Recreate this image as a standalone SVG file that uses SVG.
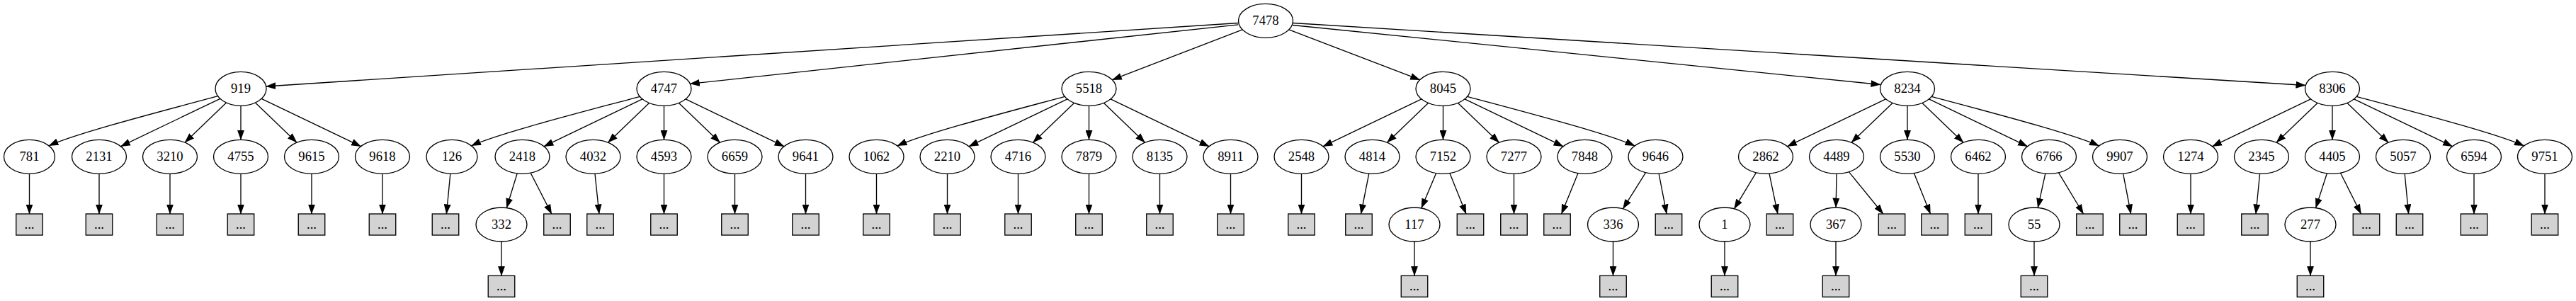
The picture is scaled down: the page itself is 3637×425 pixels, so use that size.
<svg xmlns="http://www.w3.org/2000/svg" width="3637" height="425" viewBox="0 0 3637 425">
<style>
ellipse{fill:none;stroke:#000;stroke-width:1.33}
rect.b{fill:#d3d3d3;stroke:#000;stroke-width:1.33}
text{font-family:"Liberation Serif","Times New Roman",serif;font-size:18.67px;text-anchor:middle;fill:#000}
#edges path{fill:none;stroke:#000;stroke-width:1.33;marker-end:url(#arr)}
</style>
<defs>
<marker id="arr" markerUnits="userSpaceOnUse" markerWidth="14" markerHeight="10" refX="13.5" refY="5" orient="auto" viewBox="0 0 14 10">
<path d="M0,0 L14,5 L0,10 z" fill="#000"/>
</marker>
</defs>
<rect width="3637" height="425" fill="#fff"/>
<g id="edges">
<path d="M1748.5,32.5 L375.7,122"/>
<path d="M1748.3,34.8 L974.3,118.3"/>
<path d="M1754.2,41.9 L1570.3,112.7"/>
<path d="M1819.8,41.9 L2004.7,112.7"/>
<path d="M1825,35.5 L2655,119.5"/>
<path d="M1825.2,32.5 L3255,120.5"/>
<path d="M307.6,135.7 C227.6,157.3 109,187.8 69,205.8"/>
<path d="M310.8,139.3 L170.5,206.7"/>
<path d="M319.5,145 L261,201.2"/>
<path d="M340,149.3 L340,197.3"/>
<path d="M360.5,145 L419,201.2"/>
<path d="M369.2,139.3 L509.5,206.7"/>
<path d="M903.3,136.3 C823.3,157.9 705.5,187.8 665.5,205.8"/>
<path d="M907,139.9 L768,206.7"/>
<path d="M916.5,145.4 L858.5,201.2"/>
<path d="M937.5,149.3 L937.5,197.3"/>
<path d="M958.5,145.4 L1016.5,201.2"/>
<path d="M968,139.9 L1107,206.7"/>
<path d="M1503.3,136.3 C1423.3,157.9 1307,187.9 1267,205.9"/>
<path d="M1507,139.9 L1368,206.7"/>
<path d="M1516.5,145.4 L1458.5,201.2"/>
<path d="M1537.5,149.3 L1537.5,197.3"/>
<path d="M1558.5,145.4 L1616.5,201.2"/>
<path d="M1568,139.9 L1707,206.7"/>
<path d="M2007,139.9 L1868,206.7"/>
<path d="M2016.5,145.4 L1958.5,201.2"/>
<path d="M2037.5,149.3 L2037.5,197.3"/>
<path d="M2058.5,145.4 L2116.5,201.2"/>
<path d="M2068,139.9 L2207,206.7"/>
<path d="M2071.8,136.3 C2151.8,157.9 2268,187.9 2308,205.9"/>
<path d="M2662.5,139.9 L2523.5,206.7"/>
<path d="M2672,145.4 L2614,201.2"/>
<path d="M2693,149.3 L2693,197.3"/>
<path d="M2714,145.4 L2772,201.2"/>
<path d="M2723.5,139.9 L2862.5,206.7"/>
<path d="M2727.3,136.3 C2807.3,157.9 2923.5,187.9 2963.5,205.9"/>
<path d="M3262.5,139.9 L3123.5,206.7"/>
<path d="M3272,145.4 L3214,201.2"/>
<path d="M3293,149.3 L3293,197.3"/>
<path d="M3314,145.4 L3372,201.2"/>
<path d="M3323.5,139.9 L3462.5,206.7"/>
<path d="M3327.3,136.3 C3407.3,157.9 3523.5,187.9 3563.5,205.9"/>
<path d="M41.5,245.3 L41.5,302"/>
<path d="M140,245.3 L140,302"/>
<path d="M240,245.3 L240,302"/>
<path d="M340,245.3 L340,302"/>
<path d="M440,245.3 L440,302"/>
<path d="M540,245.3 L540,302"/>
<path d="M635.8,245.3 L630.4,302"/>
<path d="M730.2,244.9 L715.3,293.5"/>
<path d="M749.2,244.2 L778.8,302"/>
<path d="M840,245.3 L845.9,302"/>
<path d="M937.5,245.3 L937.5,302"/>
<path d="M1037.5,245.3 L1037.5,302"/>
<path d="M1137.5,245.3 L1137.5,302"/>
<path d="M1237.5,245.3 L1237.5,302"/>
<path d="M1337.5,245.3 L1337.5,302"/>
<path d="M1437.5,245.3 L1437.5,302"/>
<path d="M1537.5,245.3 L1537.5,302"/>
<path d="M1637.5,245.3 L1637.5,302"/>
<path d="M1737.5,245.3 L1737.5,302"/>
<path d="M1837.5,245.3 L1837.5,302"/>
<path d="M1932.8,245.1 L1921.5,302"/>
<path d="M2027.7,244.5 L2006.8,293.9"/>
<path d="M2046.9,244.6 L2070,302"/>
<path d="M2137.5,245.3 L2137.5,302"/>
<path d="M2228,244.6 L2204.6,302"/>
<path d="M2323.5,243.7 L2291.4,294.9"/>
<path d="M2342.1,245.1 L2353.1,302"/>
<path d="M2479.4,243.8 L2448.5,294.8"/>
<path d="M2498,245.1 L2509.9,302"/>
<path d="M2593,245.3 L2592.1,293"/>
<path d="M2610.4,242.7 L2658.8,302"/>
<path d="M2702.4,244.6 L2725.5,302"/>
<path d="M2793,245.3 L2793,302"/>
<path d="M2887.8,245.1 L2877.2,293.3"/>
<path d="M2906.5,243.8 L2941.5,302"/>
<path d="M2997.6,245.1 L3008.6,302"/>
<path d="M3093,245.3 L3093,302"/>
<path d="M3190.6,245.3 L3185,302"/>
<path d="M3285.4,244.8 L3269.6,293.6"/>
<path d="M3304.5,244.2 L3333.5,302"/>
<path d="M3395.2,245.3 L3400.6,302"/>
<path d="M3493,245.3 L3493,302"/>
<path d="M3593,245.3 L3593,302"/>
<path d="M708,341 L708,389.3"/>
<path d="M1997,341 L1997,389.3"/>
<path d="M2277.5,341 L2277.5,389.3"/>
<path d="M2435,341 L2435,389.3"/>
<path d="M2592,341 L2592,389.3"/>
<path d="M2872,341 L2872,389.3"/>
<path d="M3262,341 L3262,389.3"/>
</g>
<g id="node-7478"><ellipse cx="1787" cy="29.3" rx="38.5" ry="24"/><text x="1787" y="34.9">7478</text></g>
<g id="node-919"><ellipse cx="340" cy="125.3" rx="36" ry="24"/><text x="340" y="130.9">919</text></g>
<g id="node-4747"><ellipse cx="937.5" cy="125.3" rx="38.5" ry="24"/><text x="937.5" y="130.9">4747</text></g>
<g id="node-5518"><ellipse cx="1537.5" cy="125.3" rx="38.5" ry="24"/><text x="1537.5" y="130.9">5518</text></g>
<g id="node-8045"><ellipse cx="2037.5" cy="125.3" rx="38.5" ry="24"/><text x="2037.5" y="130.9">8045</text></g>
<g id="node-8234"><ellipse cx="2693" cy="125.3" rx="38.5" ry="24"/><text x="2693" y="130.9">8234</text></g>
<g id="node-8306"><ellipse cx="3293" cy="125.3" rx="38.5" ry="24"/><text x="3293" y="130.9">8306</text></g>
<g id="node-781"><ellipse cx="41.5" cy="221.3" rx="36" ry="24"/><text x="41.5" y="226.9">781</text></g>
<g id="node-2131"><ellipse cx="140" cy="221.3" rx="38.5" ry="24"/><text x="140" y="226.9">2131</text></g>
<g id="node-3210"><ellipse cx="240" cy="221.3" rx="38.5" ry="24"/><text x="240" y="226.9">3210</text></g>
<g id="node-4755"><ellipse cx="340" cy="221.3" rx="38.5" ry="24"/><text x="340" y="226.9">4755</text></g>
<g id="node-9615"><ellipse cx="440" cy="221.3" rx="38.5" ry="24"/><text x="440" y="226.9">9615</text></g>
<g id="node-9618"><ellipse cx="540" cy="221.3" rx="38.5" ry="24"/><text x="540" y="226.9">9618</text></g>
<g id="node-126"><ellipse cx="638" cy="221.3" rx="36" ry="24"/><text x="638" y="226.9">126</text></g>
<g id="node-2418"><ellipse cx="737.5" cy="221.3" rx="38.5" ry="24"/><text x="737.5" y="226.9">2418</text></g>
<g id="node-4032"><ellipse cx="837.5" cy="221.3" rx="38.5" ry="24"/><text x="837.5" y="226.9">4032</text></g>
<g id="node-4593"><ellipse cx="937.5" cy="221.3" rx="38.5" ry="24"/><text x="937.5" y="226.9">4593</text></g>
<g id="node-6659"><ellipse cx="1037.5" cy="221.3" rx="38.5" ry="24"/><text x="1037.5" y="226.9">6659</text></g>
<g id="node-9641"><ellipse cx="1137.5" cy="221.3" rx="38.5" ry="24"/><text x="1137.5" y="226.9">9641</text></g>
<g id="node-1062"><ellipse cx="1237.5" cy="221.3" rx="38.5" ry="24"/><text x="1237.5" y="226.9">1062</text></g>
<g id="node-2210"><ellipse cx="1337.5" cy="221.3" rx="38.5" ry="24"/><text x="1337.5" y="226.9">2210</text></g>
<g id="node-4716"><ellipse cx="1437.5" cy="221.3" rx="38.5" ry="24"/><text x="1437.5" y="226.9">4716</text></g>
<g id="node-7879"><ellipse cx="1537.5" cy="221.3" rx="38.5" ry="24"/><text x="1537.5" y="226.9">7879</text></g>
<g id="node-8135"><ellipse cx="1637.5" cy="221.3" rx="38.5" ry="24"/><text x="1637.5" y="226.9">8135</text></g>
<g id="node-8911"><ellipse cx="1737.5" cy="221.3" rx="38.5" ry="24"/><text x="1737.5" y="226.9">8911</text></g>
<g id="node-2548"><ellipse cx="1837.5" cy="221.3" rx="38.5" ry="24"/><text x="1837.5" y="226.9">2548</text></g>
<g id="node-4814"><ellipse cx="1937.5" cy="221.3" rx="38.5" ry="24"/><text x="1937.5" y="226.9">4814</text></g>
<g id="node-7152"><ellipse cx="2037.5" cy="221.3" rx="38.5" ry="24"/><text x="2037.5" y="226.9">7152</text></g>
<g id="node-7277"><ellipse cx="2137.5" cy="221.3" rx="38.5" ry="24"/><text x="2137.5" y="226.9">7277</text></g>
<g id="node-7848"><ellipse cx="2237.5" cy="221.3" rx="38.5" ry="24"/><text x="2237.5" y="226.9">7848</text></g>
<g id="node-9646"><ellipse cx="2337.5" cy="221.3" rx="38.5" ry="24"/><text x="2337.5" y="226.9">9646</text></g>
<g id="node-2862"><ellipse cx="2493" cy="221.3" rx="38.5" ry="24"/><text x="2493" y="226.9">2862</text></g>
<g id="node-4489"><ellipse cx="2593" cy="221.3" rx="38.5" ry="24"/><text x="2593" y="226.9">4489</text></g>
<g id="node-5530"><ellipse cx="2693" cy="221.3" rx="38.5" ry="24"/><text x="2693" y="226.9">5530</text></g>
<g id="node-6462"><ellipse cx="2793" cy="221.3" rx="38.5" ry="24"/><text x="2793" y="226.9">6462</text></g>
<g id="node-6766"><ellipse cx="2893" cy="221.3" rx="38.5" ry="24"/><text x="2893" y="226.9">6766</text></g>
<g id="node-9907"><ellipse cx="2993" cy="221.3" rx="38.5" ry="24"/><text x="2993" y="226.9">9907</text></g>
<g id="node-1274"><ellipse cx="3093" cy="221.3" rx="38.5" ry="24"/><text x="3093" y="226.9">1274</text></g>
<g id="node-2345"><ellipse cx="3193" cy="221.3" rx="38.5" ry="24"/><text x="3193" y="226.9">2345</text></g>
<g id="node-4405"><ellipse cx="3293" cy="221.3" rx="38.5" ry="24"/><text x="3293" y="226.9">4405</text></g>
<g id="node-5057"><ellipse cx="3393" cy="221.3" rx="38.5" ry="24"/><text x="3393" y="226.9">5057</text></g>
<g id="node-6594"><ellipse cx="3493" cy="221.3" rx="38.5" ry="24"/><text x="3493" y="226.9">6594</text></g>
<g id="node-9751"><ellipse cx="3593" cy="221.3" rx="38.5" ry="24"/><text x="3593" y="226.9">9751</text></g>
<g id="node-332"><ellipse cx="708" cy="317" rx="36" ry="24"/><text x="708" y="322.6">332</text></g>
<g id="node-117"><ellipse cx="1997" cy="317" rx="36" ry="24"/><text x="1997" y="322.6">117</text></g>
<g id="node-336"><ellipse cx="2277.5" cy="317" rx="36" ry="24"/><text x="2277.5" y="322.6">336</text></g>
<g id="node-1"><ellipse cx="2435" cy="317" rx="36" ry="24"/><text x="2435" y="322.6">1</text></g>
<g id="node-367"><ellipse cx="2592" cy="317" rx="36" ry="24"/><text x="2592" y="322.6">367</text></g>
<g id="node-55"><ellipse cx="2872" cy="317" rx="36" ry="24"/><text x="2872" y="322.6">55</text></g>
<g id="node-277"><ellipse cx="3262" cy="317" rx="36" ry="24"/><text x="3262" y="322.6">277</text></g>
<g id="more-781"><rect class="b" x="22.75" y="302" width="37.5" height="30"/><text x="41.5" y="322.6">...</text></g>
<g id="more-2131"><rect class="b" x="121.25" y="302" width="37.5" height="30"/><text x="140" y="322.6">...</text></g>
<g id="more-3210"><rect class="b" x="221.25" y="302" width="37.5" height="30"/><text x="240" y="322.6">...</text></g>
<g id="more-4755"><rect class="b" x="321.25" y="302" width="37.5" height="30"/><text x="340" y="322.6">...</text></g>
<g id="more-9615"><rect class="b" x="421.25" y="302" width="37.5" height="30"/><text x="440" y="322.6">...</text></g>
<g id="more-9618"><rect class="b" x="521.25" y="302" width="37.5" height="30"/><text x="540" y="322.6">...</text></g>
<g id="more-126"><rect class="b" x="610.25" y="302" width="37.5" height="30"/><text x="629" y="322.6">...</text></g>
<g id="more-2418"><rect class="b" x="767.75" y="302" width="37.5" height="30"/><text x="786.5" y="322.6">...</text></g>
<g id="more-4032"><rect class="b" x="828.75" y="302" width="37.5" height="30"/><text x="847.5" y="322.6">...</text></g>
<g id="more-4593"><rect class="b" x="918.75" y="302" width="37.5" height="30"/><text x="937.5" y="322.6">...</text></g>
<g id="more-6659"><rect class="b" x="1018.75" y="302" width="37.5" height="30"/><text x="1037.5" y="322.6">...</text></g>
<g id="more-9641"><rect class="b" x="1118.75" y="302" width="37.5" height="30"/><text x="1137.5" y="322.6">...</text></g>
<g id="more-1062"><rect class="b" x="1218.75" y="302" width="37.5" height="30"/><text x="1237.5" y="322.6">...</text></g>
<g id="more-2210"><rect class="b" x="1318.75" y="302" width="37.5" height="30"/><text x="1337.5" y="322.6">...</text></g>
<g id="more-4716"><rect class="b" x="1418.75" y="302" width="37.5" height="30"/><text x="1437.5" y="322.6">...</text></g>
<g id="more-7879"><rect class="b" x="1518.75" y="302" width="37.5" height="30"/><text x="1537.5" y="322.6">...</text></g>
<g id="more-8135"><rect class="b" x="1618.75" y="302" width="37.5" height="30"/><text x="1637.5" y="322.6">...</text></g>
<g id="more-8911"><rect class="b" x="1718.75" y="302" width="37.5" height="30"/><text x="1737.5" y="322.6">...</text></g>
<g id="more-2548"><rect class="b" x="1818.75" y="302" width="37.5" height="30"/><text x="1837.5" y="322.6">...</text></g>
<g id="more-4814"><rect class="b" x="1899.75" y="302" width="37.5" height="30"/><text x="1918.5" y="322.6">...</text></g>
<g id="more-7152"><rect class="b" x="2057.25" y="302" width="37.5" height="30"/><text x="2076" y="322.6">...</text></g>
<g id="more-7277"><rect class="b" x="2118.75" y="302" width="37.5" height="30"/><text x="2137.5" y="322.6">...</text></g>
<g id="more-7848"><rect class="b" x="2179.75" y="302" width="37.5" height="30"/><text x="2198.5" y="322.6">...</text></g>
<g id="more-9646"><rect class="b" x="2337.25" y="302" width="37.5" height="30"/><text x="2356" y="322.6">...</text></g>
<g id="more-2862"><rect class="b" x="2494.25" y="302" width="37.5" height="30"/><text x="2513" y="322.6">...</text></g>
<g id="more-4489"><rect class="b" x="2652.25" y="302" width="37.5" height="30"/><text x="2671" y="322.6">...</text></g>
<g id="more-5530"><rect class="b" x="2712.75" y="302" width="37.5" height="30"/><text x="2731.5" y="322.6">...</text></g>
<g id="more-6462"><rect class="b" x="2774.25" y="302" width="37.5" height="30"/><text x="2793" y="322.6">...</text></g>
<g id="more-6766"><rect class="b" x="2931.75" y="302" width="37.5" height="30"/><text x="2950.5" y="322.6">...</text></g>
<g id="more-9907"><rect class="b" x="2992.75" y="302" width="37.5" height="30"/><text x="3011.5" y="322.6">...</text></g>
<g id="more-1274"><rect class="b" x="3074.25" y="302" width="37.5" height="30"/><text x="3093" y="322.6">...</text></g>
<g id="more-2345"><rect class="b" x="3164.75" y="302" width="37.5" height="30"/><text x="3183.5" y="322.6">...</text></g>
<g id="more-4405"><rect class="b" x="3322.25" y="302" width="37.5" height="30"/><text x="3341" y="322.6">...</text></g>
<g id="more-5057"><rect class="b" x="3383.25" y="302" width="37.5" height="30"/><text x="3402" y="322.6">...</text></g>
<g id="more-6594"><rect class="b" x="3474.25" y="302" width="37.5" height="30"/><text x="3493" y="322.6">...</text></g>
<g id="more-9751"><rect class="b" x="3574.25" y="302" width="37.5" height="30"/><text x="3593" y="322.6">...</text></g>
<g id="more-332"><rect class="b" x="689.25" y="389.3" width="37.5" height="30"/><text x="708" y="409.9">...</text></g>
<g id="more-117"><rect class="b" x="1978.25" y="389.3" width="37.5" height="30"/><text x="1997" y="409.9">...</text></g>
<g id="more-336"><rect class="b" x="2258.75" y="389.3" width="37.5" height="30"/><text x="2277.5" y="409.9">...</text></g>
<g id="more-1"><rect class="b" x="2416.25" y="389.3" width="37.5" height="30"/><text x="2435" y="409.9">...</text></g>
<g id="more-367"><rect class="b" x="2573.25" y="389.3" width="37.5" height="30"/><text x="2592" y="409.9">...</text></g>
<g id="more-55"><rect class="b" x="2853.25" y="389.3" width="37.5" height="30"/><text x="2872" y="409.9">...</text></g>
<g id="more-277"><rect class="b" x="3243.25" y="389.3" width="37.5" height="30"/><text x="3262" y="409.9">...</text></g>
</svg>
